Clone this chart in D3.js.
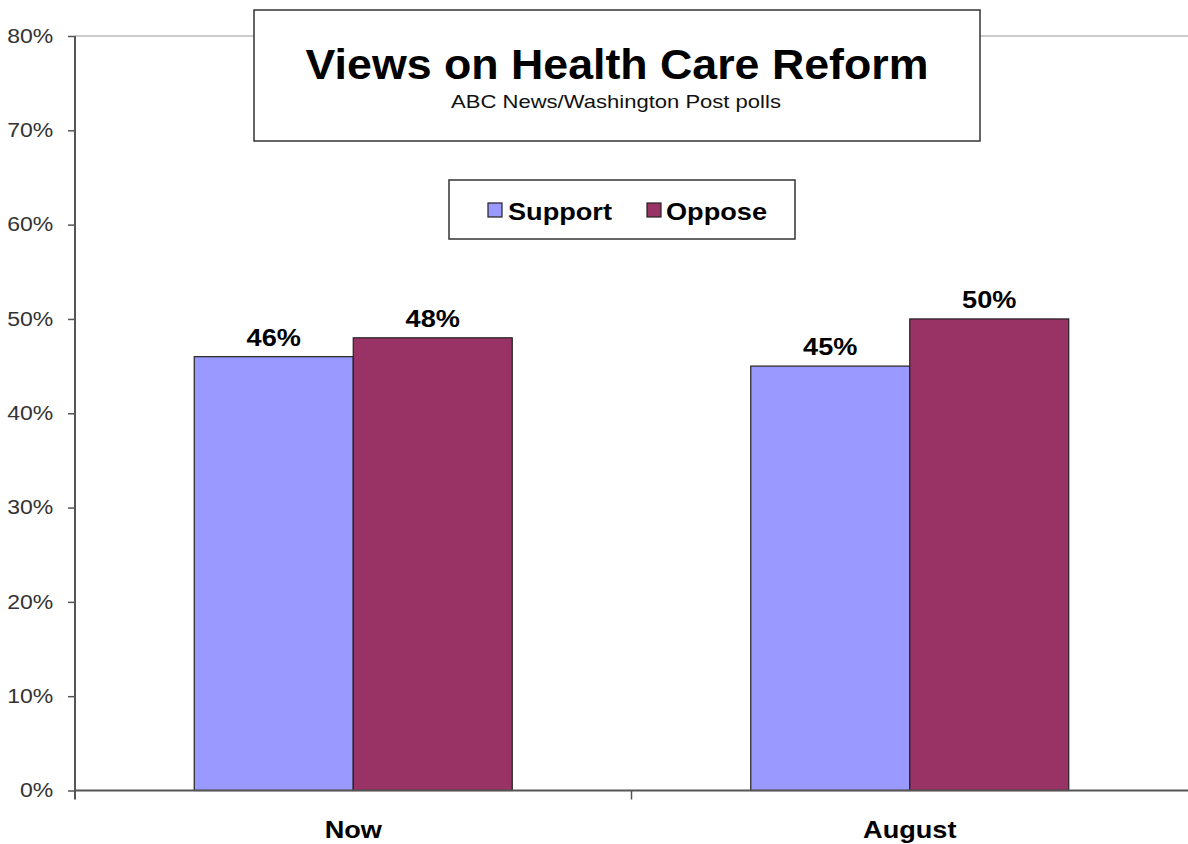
<!DOCTYPE html>
<html><head><meta charset="utf-8">
<script src="https://cdn.jsdelivr.net/npm/d3@7"></script>
<style>body{margin:0;background:#fff}svg{display:block}text{font-family:"Liberation Sans",Arial,sans-serif}</style>
</head><body>
<svg id="c" width="1188" height="844"></svg>
<script>
const categories = ["Now", "August"];
const seriesNames = ["Support", "Oppose"];
const support = [46, 45];
const oppose = [48, 50];
const yTicks = [0, 10, 20, 30, 40, 50, 60, 70, 80];
const colors = ["#9999FF", "#993366"];
const title = "Views on Health Care Reform";
const subtitle = "ABC News/Washington Post polls";

(function () {
const svg = d3.select("#c");
const SX = 1.18; // horizontal text stretch seen in the reference
const pLeft = 75, pRight = 1188, pTop = 36, pBottom = 790.5;
const x0 = d3.scaleBand().domain(categories).range([pLeft, pRight]).paddingInner(0).paddingOuter(0);
const y = d3.scaleLinear().domain([0, 80]).range([pBottom, pTop]);
const x1 = d3.scaleBand().domain(seriesNames).range([0, x0.bandwidth()]).paddingInner(0).paddingOuter(0.75);

// top gridline
svg.append("line").attr("x1", pLeft).attr("x2", pRight).attr("y1", y(80)).attr("y2", y(80))
  .attr("stroke", "#999").attr("stroke-width", 1.2);

const data = categories.map((c, i) => ({cat: c, vals: [support[i], oppose[i]]}));
const g = svg.selectAll("g.cat").data(data).join("g").attr("class", "cat").attr("transform", d => `translate(${x0(d.cat)},0)`);
g.selectAll("rect").data(d => d.vals.map((v, j) => ({v, s: seriesNames[j], j}))).join("rect")
  .attr("x", d => x1(d.s)).attr("width", x1.bandwidth())
  .attr("y", d => y(d.v)).attr("height", d => y(0) - y(d.v))
  .attr("fill", d => colors[d.j]).attr("stroke", "#222").attr("stroke-width", 1.2);
g.selectAll("text.lbl").data(d => d.vals.map((v, j) => ({v, s: seriesNames[j]}))).join("text")
  .attr("class", "lbl")
  .attr("transform", d => `translate(${x1(d.s) + x1.bandwidth() / 2},${y(d.v) - 11}) scale(${SX},1)`)
  .attr("text-anchor", "middle").attr("font-size", 23).attr("font-weight", "bold").attr("fill", "#000")
  .text(d => d.v + "%");

// y axis
const yAxis = d3.axisLeft(y).tickValues(yTicks).tickFormat(d => d + "%").tickSize(7).tickPadding(11.5);
const ya = svg.append("g").attr("transform", `translate(${pLeft},0)`).call(yAxis);
ya.select(".domain").attr("stroke", "#555").attr("stroke-width", 2).attr("d", `M0,${pTop}V${pBottom+9}`);
ya.selectAll(".tick line").attr("stroke", "#555").attr("stroke-width", 1.5);
ya.selectAll(".tick text").attr("font-size", 19.5).attr("fill", "#333")
  .attr("font-family", '"Liberation Sans",Arial,sans-serif').attr("transform", `scale(${SX},1)`);

// x axis
const xa = svg.append("g").attr("transform", `translate(0,${pBottom})`);
xa.append("line").attr("x1", pLeft).attr("x2", pRight).attr("stroke", "#555").attr("stroke-width", 2);
xa.selectAll("line.tk").data(categories.slice(1)).join("line").attr("class", "tk")
  .attr("x1", d => x0(d)).attr("x2", d => x0(d)).attr("y1", 0).attr("y2", 9).attr("stroke", "#555").attr("stroke-width", 1.5);
xa.selectAll("text").data(categories).join("text")
  .attr("transform", d => `translate(${x0(d) + x0.bandwidth() / 2},47) scale(${SX},1)`)
  .attr("text-anchor", "middle").attr("font-size", 23).attr("font-weight", "bold").text(d => d);

// title box
svg.append("rect").attr("x", 254).attr("y", 10).attr("width", 726).attr("height", 131)
  .attr("fill", "#fff").attr("stroke", "#333").attr("stroke-width", 1.5);
svg.append("text").attr("transform", "translate(617,79) scale(1.04,1)").attr("text-anchor", "middle")
  .attr("font-size", 43).attr("font-weight", "bold").text(title);
svg.append("text").attr("transform", "translate(616,108) scale(1.26,1)").attr("text-anchor", "middle")
  .attr("font-size", 17.5).attr("fill", "#111").text(subtitle);

// legend
svg.append("rect").attr("x", 449).attr("y", 180).attr("width", 346).attr("height", 59)
  .attr("fill", "#fff").attr("stroke", "#333").attr("stroke-width", 1.5);
const legX = [488, 647];
const lg = svg.selectAll("g.leg").data(seriesNames).join("g").attr("class", "leg")
  .attr("transform", (d, i) => `translate(${legX[i]},203)`);
lg.append("rect").attr("width", 14).attr("height", 14).attr("fill", (d, i) => colors[i]).attr("stroke", "#222").attr("stroke-width", 1.2);
lg.append("text").attr("transform", (d, i) => `translate(${i === 0 ? 20 : 19},17) scale(${SX},1)`)
  .attr("font-size", 23).attr("font-weight", "bold").text(d => d);
})();
</script>
</body></html>
